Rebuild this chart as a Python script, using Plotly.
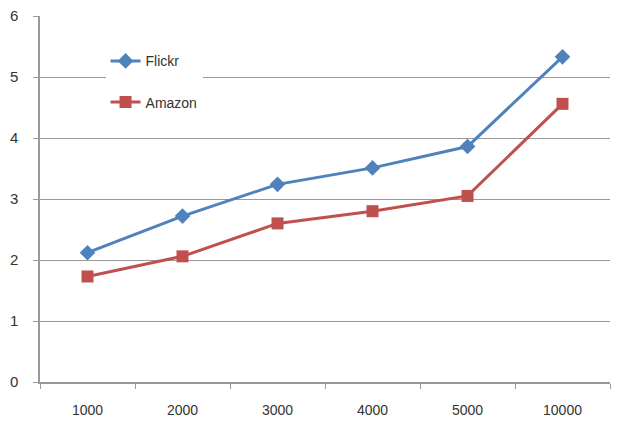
import plotly.graph_objects as go

categories = ["1000", "2000", "3000", "4000", "5000", "10000"]
flickr = [2.12, 2.72, 3.24, 3.51, 3.86, 5.33]
amazon = [1.73, 2.06, 2.60, 2.80, 3.05, 4.56]
y_ticks = [0, 1, 2, 3, 4, 5, 6]

fig = go.Figure()
fig.add_trace(go.Scatter(
    x=categories, y=flickr, name="Flickr", mode="lines+markers", legendgroup="f",
    line=dict(color="#4F81BD", width=3),
    marker=dict(symbol="diamond", size=12, color="#4F81BD"),
))
fig.add_trace(go.Scatter(
    x=categories, y=amazon, name="Amazon", mode="lines+markers", legendgroup="a",
    line=dict(color="#C0504D", width=3),
    marker=dict(symbol="square", size=12, color="#C0504D"),
))

font = dict(family="Liberation Sans, Arial, sans-serif", size=14, color="#333333")
fig.update_layout(
    width=617, height=435,
    margin=dict(l=40, r=7, t=12, b=53),
    paper_bgcolor="white", plot_bgcolor="white",
    font=font,
    showlegend=True,
    legend=dict(
        x=0.115, y=0.92, xanchor="left", yanchor="top",
        bgcolor="white", borderwidth=0,
        font=dict(family="Liberation Sans, Arial, sans-serif", size=14, color="#333333"),
        tracegroupgap=20,
    ),
    xaxis=dict(
        type="category", range=[-0.5, 5.5],
        showgrid=False, showline=True, linecolor="#999999", linewidth=1.5,
        ticks="outside", tickson="boundaries", ticklen=5, tickcolor="#999999",
        zeroline=False, ticklabelstandoff=14,
        tickfont=dict(size=14),
    ),
    yaxis=dict(
        range=[0, 6], tickvals=y_ticks, showgrid=True, gridcolor="#999999", gridwidth=1.2,
        showline=True, linecolor="#999999", linewidth=1.5,
        ticks="outside", ticklen=5, tickcolor="#999999",
        zeroline=False, ticklabelstandoff=12,
        tickfont=dict(size=15),
    ),
)

fig.write_html("out.html")
